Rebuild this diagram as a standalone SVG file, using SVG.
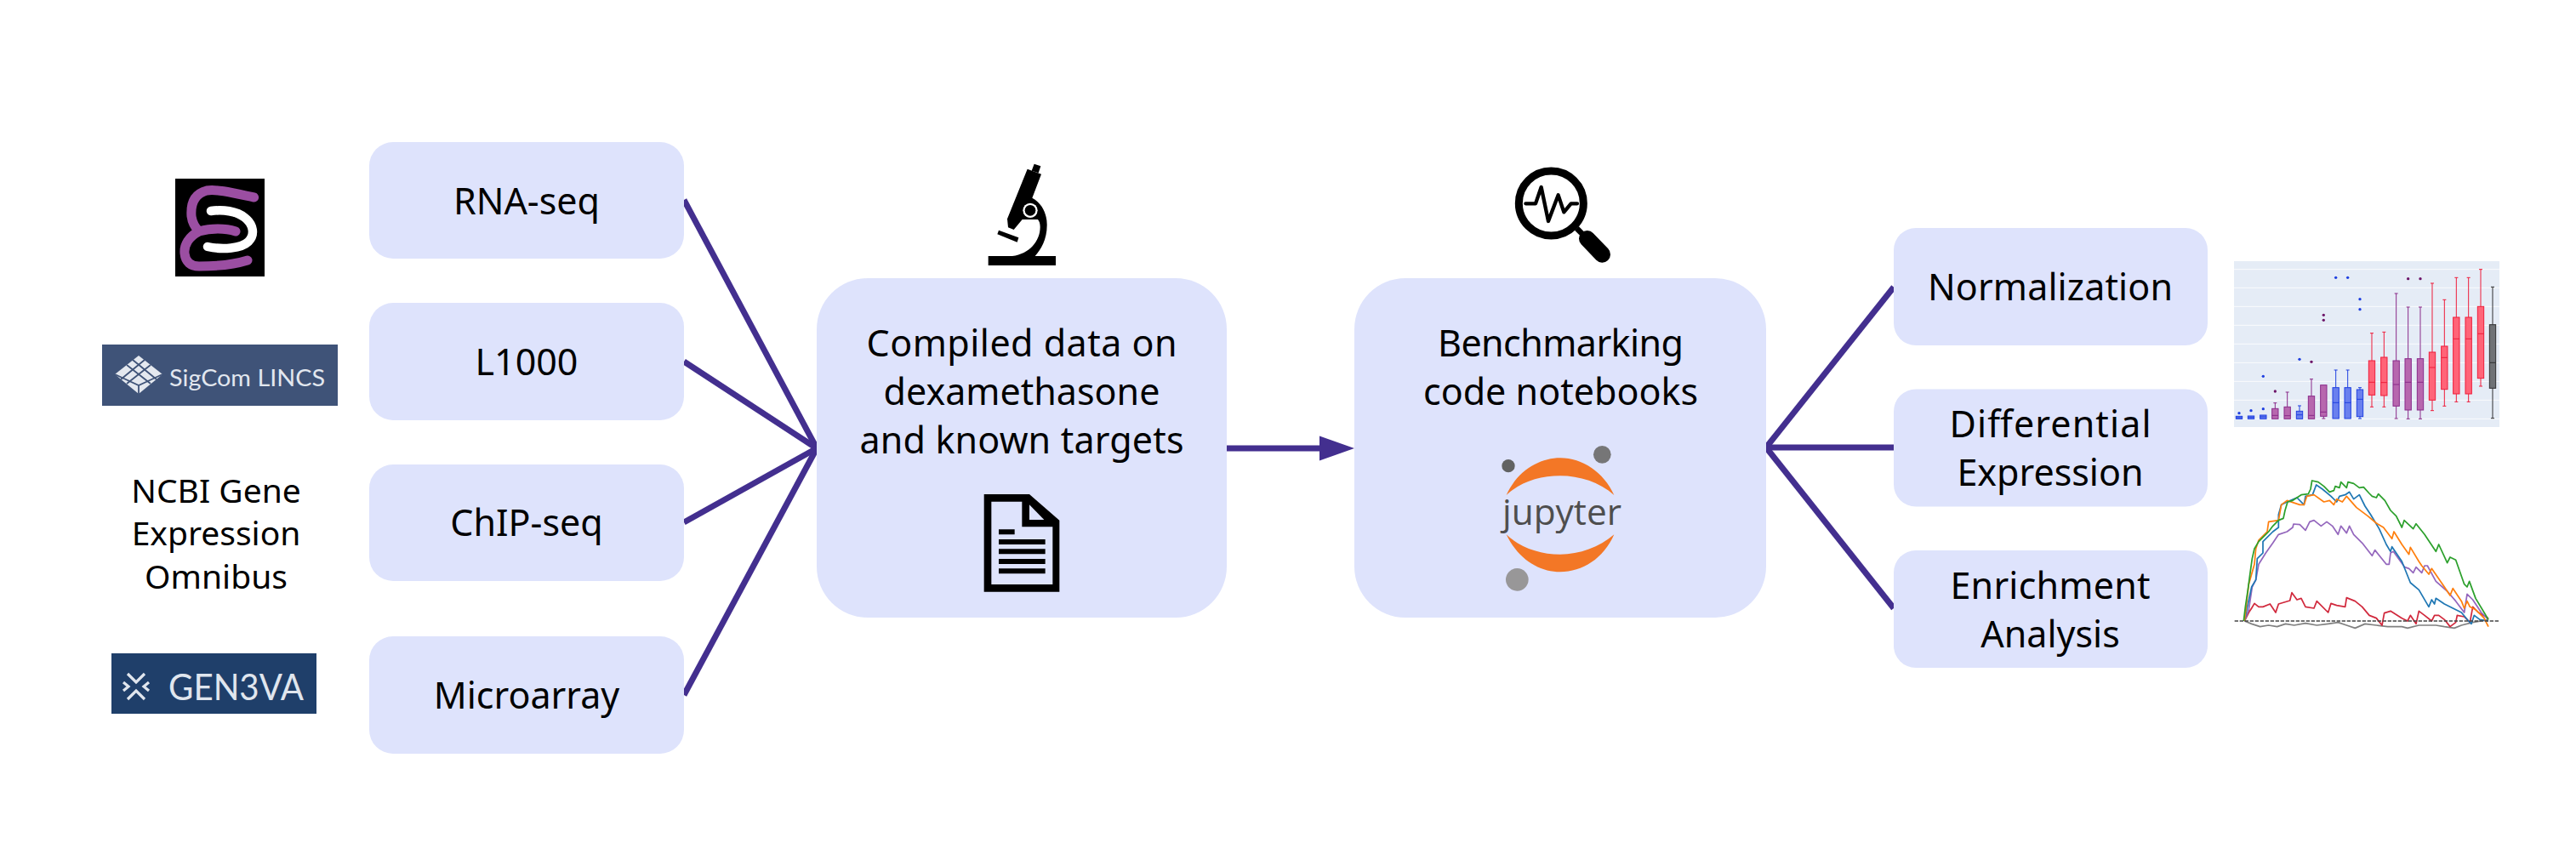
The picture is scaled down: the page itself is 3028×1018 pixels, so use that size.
<svg xmlns="http://www.w3.org/2000/svg" width="3028" height="1018" viewBox="0 0 3028 1018">
<style>
.box{fill:#dee3fc}
text{font-family:"Noto Sans","Open Sans","DejaVu Sans",sans-serif;fill:#000}
.t{font-size:43px;text-anchor:middle}
.s{font-size:39px;text-anchor:middle}
.c line{stroke:#432f8f;stroke-width:7;fill:none}
.bx rect,.bx path{stroke-width:3}
.bb rect{fill:#6a80ee}.bb rect,.bb path{stroke:#1f3fe0}
.bp rect{fill:#b767ae}.bp rect,.bp path{stroke:#8a2a8a}
.br rect{fill:#ff6478}.br rect,.br path{stroke:#ee1c3a}
.bk rect{fill:#6f7276}.bk rect,.bk path{stroke:#2e2e30}
.bx path{fill:none}
.od{fill:#1f3fe0}.op{fill:#6c1468}
.ln{fill:none;stroke-width:5.2;stroke-linejoin:round}
</style>
<rect width="3028" height="1018" fill="#fff"/>

<g id="connectors" class="c">
<line x1="804" y1="235" x2="960" y2="527"/>
<line x1="804" y1="425" x2="960" y2="527"/>
<line x1="804" y1="614" x2="960" y2="527"/>
<line x1="804" y1="817" x2="960" y2="527"/>
<line x1="1442" y1="527" x2="1556" y2="527"/>
<polygon points="1551,512.500 1592,527 1551,541.500" fill="#432f8f"/>
<line x1="2076" y1="526" x2="2226" y2="337.500"/>
<line x1="2076" y1="526" x2="2226" y2="526"/>
<line x1="2076" y1="526" x2="2226" y2="715"/>
</g>

<g id="logo-encode">
<rect x="206" y="210" width="105" height="115" fill="#000"/>
<path d="M298.600 232C275 227 255 222 243 224C228 228 224 240 225 254C226 262 230 268 234 272C248 268 265 268 277 272M234 272C222 278 216 288 217 298C218 308 224 313 234 313C255 313 275 311 291 306" fill="none" stroke="#9b4ea2" stroke-width="11" stroke-linecap="round" stroke-linejoin="round"/>
<path d="M248 248C262 246 278 248 288 256C298 264 300 276 292 284C284 292 262 294 244 290" fill="none" stroke="#fff" stroke-width="10.500" stroke-linecap="round"/>
</g>

<g id="logo-sigcom">
<rect x="120" y="405" width="277" height="72" fill="#3f5378"/>
<polygon points="163,418 191,440 163,463 135,440" fill="#e4e8ef"/>
<path d="M149,429 177,451M156,423 184,446M170,423 142,446M177,429 149,451M135,440 163,453 191,440M163,453V463" fill="none" stroke="#3f5378" stroke-width="1.800"/>
<text x="199" y="454" font-size="27" textLength="183" lengthAdjust="spacingAndGlyphs" style="font-family:Lato,'Open Sans',sans-serif;fill:#e2e7ef">SigCom LINCS</text>
</g>

<g id="logo-geo">
<text class="s" x="254" y="591">NCBI Gene</text>
<text class="s" x="254" y="641">Expression</text>
<text class="s" x="254" y="692">Omnibus</text>
</g>

<g id="logo-gen3va">
<rect x="131" y="768" width="241" height="71" fill="#1f3f6a"/>
<path d="M150 792L160 802L170 792M150 822L160 812L170 822M145 802L151 807L145 812M175 802L169 807L175 812" fill="none" stroke="#e0e6ee" stroke-width="3.200"/>
<text x="198" y="823" font-size="43" textLength="159" lengthAdjust="spacingAndGlyphs" style="font-family:Lato,'Open Sans',sans-serif;fill:#e0e6ee;font-weight:400">GEN3VA</text>
</g>

<g id="node-rnaseq"><rect class="box" x="434" y="167" width="370" height="137" rx="28"/><text class="t" x="619" y="252">RNA-seq</text></g>
<g id="node-l1000"><rect class="box" x="434" y="356" width="370" height="138" rx="28"/><text class="t" x="619" y="441">L1000</text></g>
<g id="node-chipseq"><rect class="box" x="434" y="546" width="370" height="137" rx="28"/><text class="t" x="619" y="630">ChIP-seq</text></g>
<g id="node-microarray"><rect class="box" x="434" y="748" width="370" height="138" rx="28"/><text class="t" x="619" y="833">Microarray</text></g>

<g id="node-compiled">
<rect class="box" x="960" y="327" width="482" height="399" rx="60"/>
<text class="t" x="1201" y="419" textLength="365">Compiled data on</text>
<text class="t" x="1201" y="476">dexamethasone</text>
<text class="t" x="1201" y="533" textLength="381">and known targets</text>
<g transform="translate(1130 560) scale(.33333)">
<path d="M80 63H240L346 155V407H80Z" fill="#000"/>
<path d="M106 89H214V178H322V381H106Z" fill="#dee3fc"/>
<path d="M240 100L292 153H240Z" fill="#dee3fc"/>
<path d="M132 187h56v18h-56zM132 222h164v18h-164zM132 256h164v18h-164zM132 291h164v18h-164zM132 325h164v18h-164z" fill="#000"/>
</g>
</g>

<g id="icon-microscope" transform="translate(1100 170) scale(.33333)">
<rect x="185" y="393" width="238" height="33"/>
<path d="M347 68L370 76L362 100L338 92Z"/>
<path d="M323 86L372 104L340 188C378 208 393 250 392 285C392 335 370 370 350 393H270C330 385 368 340 368 290C368 278 365 270 360 264H305L275 300L255 292L252 262Z"/>
<circle cx="333" cy="232" r="26" fill="#fff"/><circle cx="333" cy="232" r="19"/>
<path d="M222 302L292 328L287 344L217 316Z"/>
</g>

<g id="node-benchmark">
<rect class="box" x="1592" y="327" width="484" height="399" rx="60"/>
<text class="t" x="1834.500" y="419" textLength="289">Benchmarking</text>
<text class="t" x="1834.500" y="476" textLength="323">code notebooks</text>
<g transform="translate(1740 500) scale(.33333)">
<path d="M92 246C130 160 210 115 282 115C360 115 435 165 472 246C420 200 350 178 282 178C210 178 140 200 92 246Z" fill="#f37726"/>
<path d="M92 385C135 475 210 517 282 517C360 517 435 470 472 385C420 430 350 455 282 455C210 455 140 430 92 385Z" fill="#f37726"/>
<circle cx="430" cy="103" r="31" fill="#767677"/>
<circle cx="99" cy="143" r="23" fill="#616262"/>
<circle cx="130" cy="544" r="40" fill="#989798"/>
<text x="78" y="350" font-size="128" textLength="420" lengthAdjust="spacingAndGlyphs" style="fill:#4e4e4e;font-family:'Open Sans',sans-serif">jupyter</text>
</g>
</g>

<g id="icon-magnifier" transform="translate(1750 180) scale(.33333)">
<circle cx="220" cy="177" r="114" fill="none" stroke="#000" stroke-width="27"/>
<path d="M130 178H165L185 120L210 240L245 148L265 208L290 178H312" fill="none" stroke="#000" stroke-width="13" stroke-linecap="round" stroke-linejoin="round"/>
<path d="M310 265L345 300" stroke="#000" stroke-width="20"/>
<path d="M347 302L400 357" stroke="#000" stroke-width="58" stroke-linecap="round"/>
</g>

<g id="node-normalization"><rect class="box" x="2226" y="268" width="369" height="138" rx="26"/><text class="t" x="2410" y="353" textLength="288">Normalization</text></g>
<g id="node-differential"><rect class="box" x="2226" y="457.500" width="369" height="138" rx="26"/><text class="t" x="2410" y="513.500" textLength="237">Differential</text><text class="t" x="2410" y="571">Expression</text></g>
<g id="node-enrichment"><rect class="box" x="2226" y="647" width="369" height="138" rx="26"/><text class="t" x="2410" y="703.500" textLength="235">Enrichment</text><text class="t" x="2410" y="761">Analysis</text></g>

<g id="chart-box" class="bx" transform="translate(2610 290) scale(.33333)">
<rect x="48" y="51" width="936" height="585" style="fill:#e5ecf6;stroke:none"/>
<path d="M48 80H984M48 145H984M48 211H984M48 277H984M48 343H984M48 409H984M48 475H984M48 541H984M48 607H984" style="stroke:#fff;stroke-width:2.500"/>
<g class="bb">
<rect x="55" y="598" width="22" height="9"/><path d="M55 603h22"/>
<rect x="97" y="597" width="22" height="10"/><path d="M97 602h22"/>
<rect x="140" y="594" width="22" height="13"/><path d="M140 600h22"/>
<rect x="268" y="580" width="22" height="27"/><path d="M279 561V580M273 561h12M268 593h22"/>
<rect x="396" y="497" width="22" height="109"/><path d="M407 435V497M401 435h12M396 550h22"/>
<rect x="438" y="497" width="22" height="109"/><path d="M449 435V497M443 435h12M438 550h22"/>
<rect x="481" y="504" width="22" height="95"/><path d="M492 497V504M486 497h12M481 538h22M492 599V606M486 606h12"/>
</g>
<g class="bp">
<rect x="182" y="571" width="22" height="36"/><path d="M193 551V571M187 551h12M182 595h22"/>
<rect x="225" y="565" width="22" height="42"/><path d="M236 513V565M230 513h12M225 596h22"/>
<rect x="310" y="527" width="22" height="80"/><path d="M321 467V527M315 467h12M310 595h22"/>
<rect x="353" y="488" width="22" height="110"/><path d="M353 583h22M364 598V606M358 606h12"/>
<rect x="609" y="402" width="22" height="160"/><path d="M620 165V402M614 165h12M609 486h22M620 562V606M614 606h12"/>
<rect x="651" y="395" width="22" height="181"/><path d="M662 213V395M656 213h12M651 478h22M662 576V607M656 607h12"/>
<rect x="694" y="395" width="22" height="181"/><path d="M705 213V395M699 213h12M694 478h22M705 576V607M699 607h12"/>
</g>
<g class="br">
<rect x="523" y="402" width="22" height="121"/><path d="M534 305V402M528 305h12M523 478h22M534 523V565M528 565h12"/>
<rect x="566" y="390" width="22" height="135"/><path d="M577 301V390M571 301h12M566 479h22M577 525V565M571 565h12"/>
<rect x="736" y="372" width="22" height="169"/><path d="M747 129V372M741 129h12M736 426h22M747 541V578M741 578h12"/>
<rect x="779" y="351" width="22" height="152"/><path d="M790 187V351M784 187h12M779 391h22M790 503V562M784 562h12"/>
<rect x="821" y="249" width="22" height="270"/><path d="M832 109V249M826 109h12M821 325h22M832 519V547M826 547h12"/>
<rect x="864" y="249" width="22" height="270"/><path d="M875 109V249M869 109h12M864 325h22M875 519V547M869 547h12"/>
<rect x="907" y="211" width="22" height="253"/><path d="M918 80V211M912 80h12M907 307h22M918 464V492M912 492h12"/>
</g>
<g class="bk">
<rect x="949" y="275" width="22" height="224"/><path d="M960 142V275M954 142h12M949 409h22M960 499V605M954 605h12"/>
</g>
<g class="od" style="stroke:none">
<circle cx="66" cy="587" r="5"/><circle cx="108" cy="578" r="5"/><circle cx="151" cy="457" r="5"/><circle cx="151" cy="572" r="5"/><circle cx="279" cy="397" r="5"/><circle cx="407" cy="109" r="5"/><circle cx="449" cy="109" r="5"/><circle cx="492" cy="185" r="5"/><circle cx="492" cy="221" r="5"/>
</g>
<g class="op">
<circle cx="193" cy="510" r="5"/><circle cx="321" cy="406" r="5"/><circle cx="364" cy="241" r="5"/><circle cx="364" cy="259" r="5"/><circle cx="662" cy="113" r="5"/><circle cx="705" cy="113" r="5"/>
</g>
</g>

<g id="chart-lines" transform="translate(2610 550) scale(.33333)">
<polyline class="ln" stroke="#808080" points="85,540 110,550 140,560 170,555 200,560 230,550 260,555 300,548 340,555 380,550 415,545 445,555 475,565 510,550 550,555 590,560 640,560 660,565 700,555 760,555 790,560 825,565 850,555 890,545 945,535"/>
<polyline class="ln" stroke="#d1293d" points="85,540 100,510 110,495 120,478 135,490 150,490 175,480 195,510 205,480 245,468 252,440 270,465 285,460 300,490 330,495 340,470 380,510 390,478 410,485 440,490 445,458 475,470 500,490 525,520 550,530 570,555 578,512 600,505 640,530 660,540 670,520 690,550 700,505 720,520 745,540 755,520 770,520 790,535 810,560 830,545 835,520 860,525 880,545 890,490 910,510 945,530"/>
<polyline class="ln" stroke="#9467bd" points="85,540 100,500 112,420 125,395 135,340 160,300 185,265 205,235 235,225 255,210 258,198 280,200 300,220 315,190 330,185 355,205 375,190 395,205 415,235 425,205 445,230 455,205 470,235 500,265 535,310 545,290 585,340 595,340 600,300 610,295 650,350 665,355 680,370 690,350 710,370 720,345 730,345 760,400 800,435 830,470 860,510 870,445 890,465 920,510 945,535"/>
<polyline class="ln" stroke="#1f77b4" points="85,540 95,490 110,420 125,395 130,320 150,300 150,260 185,225 205,210 205,165 215,130 240,118 270,105 295,130 300,100 325,95 338,60 360,75 390,100 410,120 420,100 440,95 455,85 470,110 490,95 510,135 530,165 560,215 585,270 600,295 605,278 640,330 670,405 700,430 735,490 745,465 755,480 760,460 790,480 820,495 850,510 875,540 885,550 895,520 915,535 945,540"/>
<polyline class="ln" stroke="#ff7f0e" points="85,540 100,410 120,340 125,285 135,255 165,225 170,190 205,185 215,130 235,115 280,130 295,130 305,100 330,95 365,120 385,115 400,130 410,110 430,120 445,100 480,140 520,170 550,195 575,210 605,250 612,225 640,270 665,305 670,280 700,330 710,345 735,375 745,355 790,420 810,450 820,425 850,470 860,495 870,470 880,490 900,500 930,530 945,560"/>
<polyline class="ln" stroke="#2ca02c" points="82,540 88,490 97,430 105,370 112,320 120,285 135,260 150,245 170,225 185,205 205,185 222,178 228,150 237,120 255,115 270,105 285,95 310,92 318,75 323,45 345,50 365,65 385,85 400,80 405,65 420,70 425,50 445,70 450,50 470,55 490,70 505,68 525,90 535,100 550,105 557,92 580,115 600,150 620,170 640,210 648,185 680,215 690,197 720,235 740,265 760,295 770,270 800,335 810,315 830,325 860,410 870,420 878,400 900,460 930,510 945,535"/>
<path d="M50 540H985" stroke="#444" stroke-width="4" stroke-dasharray="13 5" fill="none"/>
</g>
</svg>
